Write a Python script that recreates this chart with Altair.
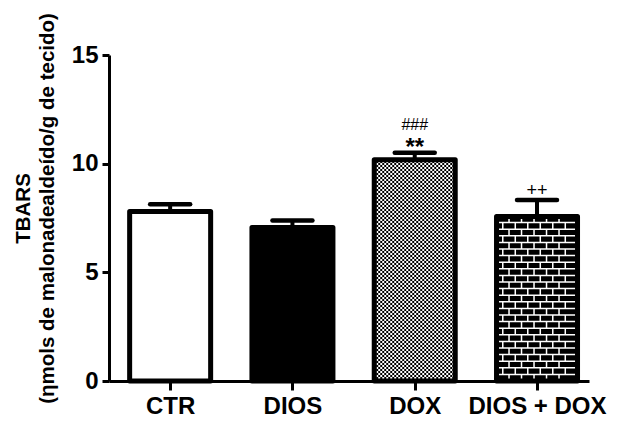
import json
import altair as alt
import pandas as pd
import numpy as np

# ---- data ----
categories = ["CTR", "DIOS", "DOX", "DIOS + DOX"]
means = [7.80, 7.06, 10.18, 7.57]
sems = [0.33, 0.32, 0.32, 0.76]
star_marks = ["", "", "**", ""]
hash_marks = ["", "", "###", ""]
plus_marks = ["", "", "", "++"]
y_ticks = [0, 5, 10, 15]

# ---- layout constants ----
W, H = 480, 326
XMIN, XMAX = -0.5, 3.425
YMAX = 15
PXX = W / (XMAX - XMIN)
PXY = H / YMAX
HALF = 40.5 / PXX
CAP = 20 / PXX
FONT = "Liberation Sans"

idx = list(range(len(categories)))
df = pd.DataFrame({
    "idx": idx,
    "cat": categories,
    "mean": means,
    "top": [m + s for m, s in zip(means, sems)],
    "lo": [i - HALF for i in idx],
    "hi": [i + HALF for i in idx],
    "capl": [i - CAP for i in idx],
    "capr": [i + CAP for i in idx],
    "zero": [0.0] * len(idx),
    "star": star_marks,
    "hash": hash_marks,
    "plus": plus_marks,
})

# checker pattern rows (DOX)
ci = 2
cell = 2.0
rows = []
for k in range(int(means[ci] * PXY / cell)):
    rows.append({"y": (k + 0.5) * cell / PXY, "lo": ci - HALF, "hi": ci + HALF, "par": k % 2})
checker = pd.DataFrame(rows)

# brick pattern (DIOS + DOX)
bi = 3
rowh = 6.6
brick_half = 6.25
hrows = [{"y": k * rowh / PXY, "lo": bi - HALF, "hi": bi + HALF}
         for k in range(1, int(means[bi] * PXY / rowh) + 1)]
hlines = pd.DataFrame(hrows)
vcols = [{"x": bi - HALF + j * brick_half / PXX, "y0": 0.0, "y1": means[bi], "par": j % 2}
         for j in range(1, int(2 * HALF * PXX / brick_half))]
vlines = pd.DataFrame(vcols)

xs = alt.Scale(domain=[XMIN, XMAX], nice=False, zero=False)
ys = alt.Scale(domain=[0, YMAX], nice=False)

label_expr = json.dumps(categories) + "[datum.value]"

base = alt.Chart(df)

fills = base.mark_rect(strokeWidth=0).encode(
    x=alt.X("lo:Q", scale=xs, axis=alt.Axis(
        values=idx, labelExpr=label_expr, title=None, grid=False,
        tickSize=9, tickWidth=3, domainWidth=3, domainColor="black", tickColor="black",
        labelFont=FONT, labelFontSize=24, labelFontWeight="bold", labelColor="black",
        labelPadding=4, zindex=1)),
    x2="hi:Q",
    y=alt.Y("mean:Q", scale=ys, axis=alt.Axis(
        values=y_ticks, title=["TBARS", "(ηmols de malonadealdeído/g de tecido)"],
        grid=False, tickSize=7, tickWidth=3, domainWidth=3, domainColor="black", tickColor="black",
        labelFont=FONT, labelFontSize=24, labelFontWeight="bold", labelColor="black",
        labelPadding=4, titleFont=FONT, titleFontSize=20.5, titleFontWeight="bold",
        titleColor="black", titleX=-76, titleY=153, titleAngle=270, titleAlign="center",
        titleBaseline="bottom", titleLineHeight=24, zindex=1)),
    y2="zero:Q",
    fill=alt.Fill("cat:N", scale=alt.Scale(domain=categories,
                                           range=["white", "black", "white", "black"]),
                  legend=None),
)

check_even = alt.Chart(checker).transform_filter("datum.par == 0").mark_rule(
    color="black", strokeWidth=cell, strokeDash=[cell, cell], strokeDashOffset=0
).encode(x=alt.X("lo:Q", scale=xs), x2="hi:Q", y=alt.Y("y:Q", scale=ys))
check_odd = alt.Chart(checker).transform_filter("datum.par == 1").mark_rule(
    color="black", strokeWidth=cell, strokeDash=[cell, cell], strokeDashOffset=cell
).encode(x=alt.X("lo:Q", scale=xs), x2="hi:Q", y=alt.Y("y:Q", scale=ys))

brick_h = alt.Chart(hlines).mark_rule(color="white", strokeWidth=1.5).encode(
    x=alt.X("lo:Q", scale=xs), x2="hi:Q", y=alt.Y("y:Q", scale=ys))
brick_v0 = alt.Chart(vlines).transform_filter("datum.par == 0").mark_rule(
    color="white", strokeWidth=1.5, strokeDash=[rowh, rowh], strokeDashOffset=0
).encode(x=alt.X("x:Q", scale=xs), y=alt.Y("y0:Q", scale=ys), y2="y1:Q")
brick_v1 = alt.Chart(vlines).transform_filter("datum.par == 1").mark_rule(
    color="white", strokeWidth=1.5, strokeDash=[rowh, rowh], strokeDashOffset=rowh
).encode(x=alt.X("x:Q", scale=xs), y=alt.Y("y0:Q", scale=ys), y2="y1:Q")

outline = base.mark_rect(fillOpacity=0, stroke="black", strokeWidth=5, strokeJoin="round").encode(
    x=alt.X("lo:Q", scale=xs), x2="hi:Q", y=alt.Y("mean:Q", scale=ys), y2="zero:Q")

stem = base.mark_rule(color="black", strokeWidth=4).encode(
    x=alt.X("idx:Q", scale=xs), y=alt.Y("mean:Q", scale=ys), y2="top:Q")
caps = base.mark_rule(color="black", strokeWidth=4.5, strokeCap="round").encode(
    x=alt.X("capl:Q", scale=xs), x2="capr:Q", y=alt.Y("top:Q", scale=ys))

stars = base.mark_text(font=FONT, fontSize=24, fontWeight="bold", baseline="alphabetic",
                       dy=2, color="black").encode(
    x=alt.X("idx:Q", scale=xs), y=alt.Y("top:Q", scale=ys), text="star:N")
hashes = base.mark_text(font=FONT, fontSize=16, baseline="alphabetic",
                        dy=-23, color="black").encode(
    x=alt.X("idx:Q", scale=xs), y=alt.Y("top:Q", scale=ys), text="hash:N")
pluses = base.mark_text(font=FONT, fontSize=18, baseline="alphabetic",
                        dy=-4, color="black").encode(
    x=alt.X("idx:Q", scale=xs), y=alt.Y("top:Q", scale=ys), text="plus:N")

chart = alt.layer(
    fills, check_even, check_odd, brick_h, brick_v0, brick_v1, outline, stem, caps,
    stars, hashes, pluses
).properties(
    width=W, height=H,
    autosize=alt.AutoSizeParams(type="none"),
    padding={"left": 101, "top": 47, "right": 20, "bottom": 40},
    background="white",
).configure_view(stroke=None)

chart.save("out.html", embed_options={"renderer": "svg", "actions": False})
